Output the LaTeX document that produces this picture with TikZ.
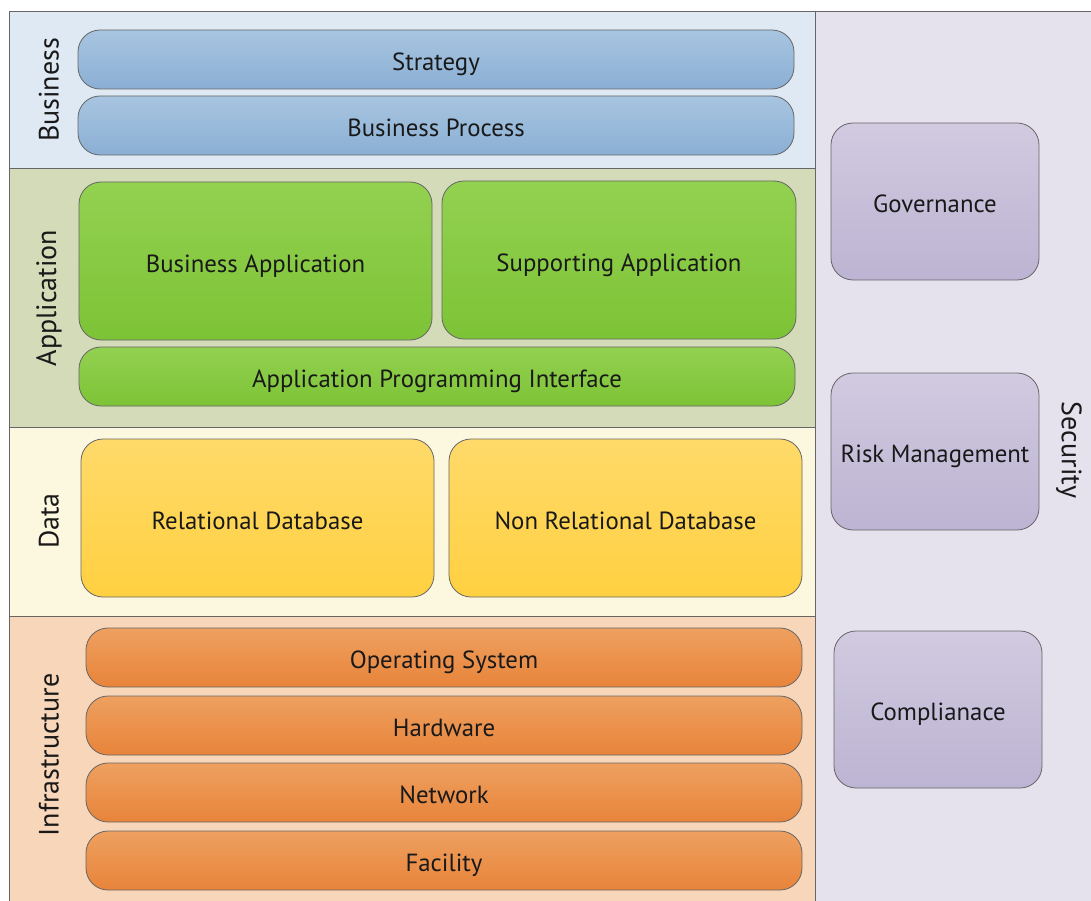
\documentclass[tikz,border=0pt]{standalone}
\usepackage{fontspec}
\setmainfont{PT Sans}
\begin{document}
\begin{tikzpicture}[x=1pt,y=-1pt,
  band/.style={draw=gray!80!black, line width=0.8pt},
  blk/.style={draw=black!60, line width=0.8pt, rounded corners=22pt, align=center,
    font=\fontsize{24.8}{28}\selectfont, text=black!90, inner sep=0pt,
    text height=22pt, text depth=0pt},
  biz/.style={blk, top color=bizT, bottom color=bizB},
  app/.style={blk, top color=appT, bottom color=appB},
  dat/.style={blk, top color=datT, bottom color=datB},
  inf/.style={blk, top color=infT, bottom color=infB},
  sec/.style={blk, top color=secT, bottom color=secB},
  lbl/.style={font=\fontsize{28}{32}\selectfont, text=black!90, inner sep=0pt}
]
\definecolor{bizBg}{HTML}{DFE9F3}
\definecolor{bizT}{HTML}{A8C5E0}
\definecolor{bizB}{HTML}{8AAFD4}
\definecolor{appBg}{HTML}{D3DBB8}
\definecolor{appT}{HTML}{93D151}
\definecolor{appB}{HTML}{7DC336}
\definecolor{datBg}{HTML}{FCF8E0}
\definecolor{datT}{HTML}{FFDA6A}
\definecolor{datB}{HTML}{FFD040}
\definecolor{infBg}{HTML}{F8D6BA}
\definecolor{infT}{HTML}{EEA060}
\definecolor{infB}{HTML}{E8843A}
\definecolor{secBg}{HTML}{E5E2EE}
\definecolor{secT}{HTML}{D1CAE0}
\definecolor{secB}{HTML}{BCB4D2}
\useasboundingbox (0,0) rectangle (1091,901);
\fill[white] (0,0) rectangle (1091,901);
% bands
\fill[bizBg] (9,11) rectangle (815,168);
\fill[appBg] (9,168) rectangle (815,427);
\fill[datBg] (9,427) rectangle (815,616);
\fill[infBg] (9,616) rectangle (815,902);
\fill[secBg] (815,11) rectangle (1092,902);
\draw[band] (9,902) -- (9,11) -- (1092,11);
\draw[band] (815,11) -- (815,902);
\draw[band] (9,168) -- (815,168);
\draw[band] (9,427) -- (815,427);
\draw[band] (9,616) -- (815,616);
% side labels
\node[lbl, rotate=90] (lbiz) at (49,90) {Business};
\node[lbl, rotate=90] (lapp) at (49,298) {Application};
\node[lbl, rotate=90] (ldat) at (49,521) {Data};
\node[lbl, rotate=90] (linf) at (49,755) {Infrastructure};
\node[lbl, rotate=-90] (lsec) at (1069,450) {Security};
% business
\node[biz, minimum width=716pt, minimum height=59pt] (strat) at (436,59.5) {Strategy};
\node[biz, minimum width=716pt, minimum height=59pt] (bp) at (436,125.5) {Business Process};
% application
\node[app, minimum width=353pt, minimum height=158pt] (ba) at (255.5,261) {Business Application};
\node[app, minimum width=354pt, minimum height=158pt] (sa) at (619,260) {Supporting Application};
\node[app, minimum width=716pt, minimum height=59pt] (api) at (437,376.5) {Application Programming Interface};
% data
\node[dat, minimum width=353pt, minimum height=158pt] (rdb) at (257.5,518) {Relational Database};
\node[dat, minimum width=353pt, minimum height=158pt] (nrdb) at (625.5,518) {Non Relational Database};
% infrastructure
\node[inf, minimum width=716pt, minimum height=59pt] (os) at (444,657.5) {Operating System};
\node[inf, minimum width=716pt, minimum height=59pt] (hw) at (444,725.5) {Hardware};
\node[inf, minimum width=716pt, minimum height=59pt] (net) at (444,792.5) {Network};
\node[inf, minimum width=716pt, minimum height=59pt] (fac) at (444,860.5) {Facility};
% security
\node[sec, minimum width=208pt, minimum height=157pt] (gov) at (935,201.5) {Governance};
\node[sec, minimum width=208pt, minimum height=157pt] (risk) at (935,451.5) {Risk Management};
\node[sec, minimum width=208pt, minimum height=157pt] (comp) at (938,709.5) {Complianace};
\end{tikzpicture}
\end{document}
